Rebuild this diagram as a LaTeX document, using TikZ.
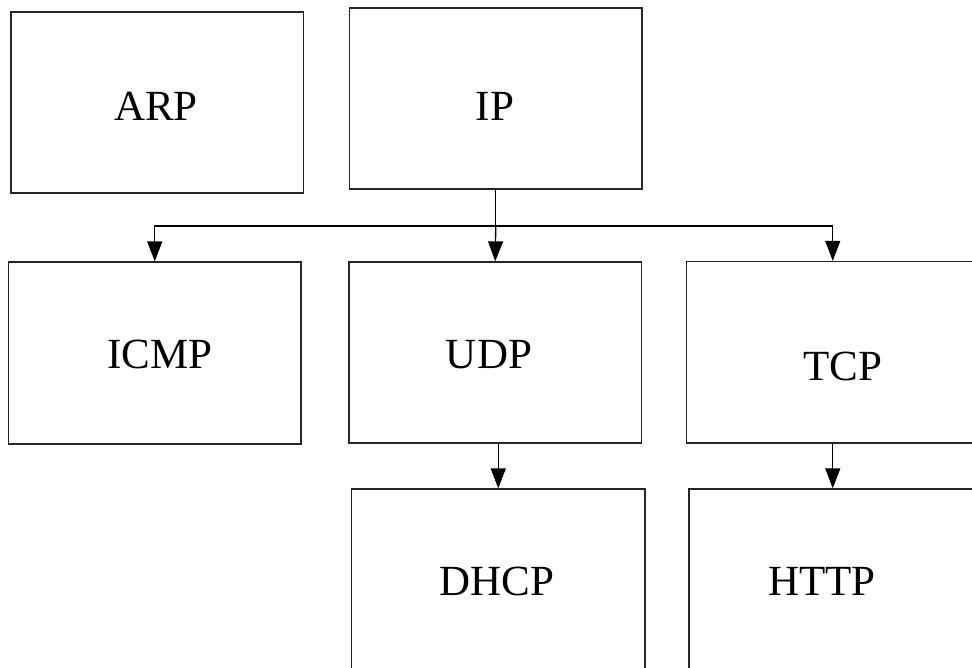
\documentclass[tikz,border=0pt]{standalone}
\usepackage{fontspec}
\setmainfont{Liberation Serif}
\usetikzlibrary{arrows.meta}
\begin{document}
\begin{tikzpicture}[x=1pt,y=-1pt,
  box/.style={draw=black!85,line width=1.3pt,inner sep=0pt},
  lbl/.style={font=\fontsize{43}{50}\selectfont,inner sep=0pt,anchor=base},
  arr/.style={line width=1.3pt,-{Triangle[length=20pt,width=15pt]}},
  conn/.style={line width=1.3pt}]
\useasboundingbox (0,0) rectangle (972,667);
\clip (0,0) rectangle (972,667);
\fill[white] (0,0) rectangle (972,667);
% boxes
\node[box,minimum width=292.5pt,minimum height=181pt] (arp) at (157.25,102.5) {};
\node[box,minimum width=292.5pt,minimum height=181pt] (ip) at (495.75,98.5) {};
\node[box,minimum width=292.5pt,minimum height=182pt] (icmp) at (154.75,353) {};
\node[box,minimum width=292.5pt,minimum height=181pt] (udp) at (495.25,352.5) {};
\node[box,minimum width=292.5pt,minimum height=181.5pt] (tcp) at (832.75,352.25) {};
\node[box,minimum width=293.5pt,minimum height=181pt] (dhcp) at (498.25,579.5) {};
\node[box,minimum width=293.5pt,minimum height=181pt] (http) at (835.75,579.5) {};
% labels
\node[lbl] (tarp) at (156,120) {ARP};
\node[lbl] (tip) at (495,120) {IP};
\node[lbl] (ticmp) at (160,368) {ICMP};
\node[lbl] (tudp) at (489,368) {UDP};
\node[lbl] (ttcp) at (843,380) {TCP};
\node[lbl] (tdhcp) at (497,595) {DHCP};
\node[lbl] (thttp) at (822,595) {HTTP};
% connectors
\coordinate (bus) at (495.75,226);
\draw[conn] (ip.south) -- (bus);
\draw[arr] (bus) -| (icmp.north);
\draw[arr] (bus) -- (udp.north);
\draw[arr] (bus) -| (tcp.north);
\draw[arr] (dhcp.north |- udp.south) -- (dhcp.north);
\draw[arr] (tcp.south) -- (tcp.south |- http.north);
\end{tikzpicture}
\end{document}
